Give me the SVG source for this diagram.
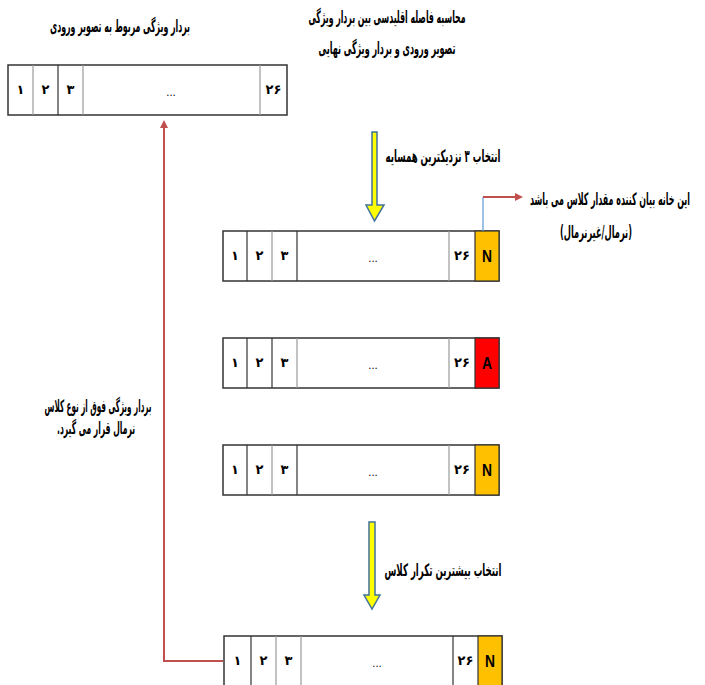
<svg xmlns="http://www.w3.org/2000/svg" width="705" height="685" viewBox="0 0 705 685">
<style>
.t{font-family:"DejaVu Sans","Noto Sans",sans-serif;font-weight:bold;fill:#000;text-anchor:middle;font-size:17px;direction:rtl;unicode-bidi:embed}
.num{font-family:"DejaVu Sans",sans-serif;font-size:13px;font-weight:bold;fill:#000;text-anchor:middle}
.dots{font-family:"DejaVu Sans",sans-serif;font-size:10px;fill:#000;text-anchor:middle}
.cls{font-family:"Liberation Sans",sans-serif;font-size:17px;font-weight:bold;fill:#000;text-anchor:middle}
.box{fill:#fff;stroke:#333;stroke-width:1.5}
.dk{stroke:#333;stroke-width:1.2}
.lt{stroke:#999;stroke-width:1.2}
.red{stroke:#c0504d;stroke-width:2;fill:none}
.yarrow{fill:#ffff00;stroke:#41719c;stroke-width:1.5}
</style>
<defs>
<marker id="ah" markerWidth="8" markerHeight="8" refX="6" refY="4" orient="auto" markerUnits="userSpaceOnUse">
<path d="M0,0 L8,4 L0,8 Z" fill="#c0504d"/>
</marker>
</defs>

<g id="title-input">
<text class="t" x="120" y="32" textLength="140" lengthAdjust="spacingAndGlyphs">بردار ویژگی مربوط به تصویر ورودی</text>
</g>
<g id="title-distance">
<text class="t" x="387" y="23" textLength="157" lengthAdjust="spacingAndGlyphs">محاسبه فاصله اقلیدسی بین بردار ویژگی</text>
<text class="t" x="387" y="54" textLength="137" lengthAdjust="spacingAndGlyphs">تصویر ورودی و بردار ویژگی نهایی</text>
</g>

<g id="vector-input">
<rect class="box" x="8" y="65" width="279" height="50"/>
<line class="lt" x1="33" y1="65" x2="33" y2="115"/>
<line class="dk" x1="58" y1="65" x2="58" y2="115"/>
<line class="lt" x1="83" y1="65" x2="83" y2="115"/>
<line class="lt" x1="260" y1="65" x2="260" y2="115"/>
<text class="num" x="20.5" y="94">۱</text>
<text class="num" x="45.5" y="94">۲</text>
<text class="num" x="70.5" y="94">۳</text>
<text class="dots" x="171" y="96">...</text>
<text class="num" x="273.5" y="94">۲۶</text>
</g>

<g id="step-knn">
<path class="yarrow" d="M372,132 L377,132 L377,205 L384,205 L374.5,221 L366,205 L372,205 Z"/>
<text class="t" x="443" y="162" textLength="115" lengthAdjust="spacingAndGlyphs">انتخاب ۳ نزدیکترین همسایه</text>
</g>

<g id="note-class">
<text class="t" x="610" y="205" textLength="160" lengthAdjust="spacingAndGlyphs">این خانه بیان کننده مقدار کلاس می باشد</text>
<text class="t" x="596" y="238" textLength="72" lengthAdjust="spacingAndGlyphs">(نرمال/غیرنرمال)</text>
</g>

<g id="neighbor-1">
<rect class="box" x="223" y="231" width="276" height="50"/>
<rect x="475" y="231" width="24" height="50" fill="#ffc000" stroke="#333" stroke-width="1.2"/>
<line class="dk" x1="247" y1="231" x2="247" y2="281"/>
<line class="lt" x1="272" y1="231" x2="272" y2="281"/>
<line class="dk" x1="297" y1="231" x2="297" y2="281"/>
<line class="lt" x1="449" y1="231" x2="449" y2="281"/>
<text class="num" x="235" y="260">۱</text>
<text class="num" x="259.5" y="260">۲</text>
<text class="num" x="284.5" y="260">۳</text>
<text class="dots" x="373" y="262">...</text>
<text class="num" x="462" y="260">۲۶</text>
<text class="cls" x="487" y="262" textLength="10" lengthAdjust="spacingAndGlyphs">N</text>
</g>

<g id="neighbor-2">
<rect class="box" x="223" y="338" width="276" height="50"/>
<rect x="475" y="338" width="24" height="50" fill="#ff0000" stroke="#333" stroke-width="1.2"/>
<line class="dk" x1="247" y1="338" x2="247" y2="388"/>
<line class="dk" x1="272" y1="338" x2="272" y2="388"/>
<line class="lt" x1="297" y1="338" x2="297" y2="388"/>
<line class="lt" x1="449" y1="338" x2="449" y2="388"/>
<text class="num" x="235" y="367">۱</text>
<text class="num" x="259.5" y="367">۲</text>
<text class="num" x="284.5" y="367">۳</text>
<text class="dots" x="373" y="369">...</text>
<text class="num" x="462" y="367">۲۶</text>
<text class="cls" x="487" y="369" textLength="10" lengthAdjust="spacingAndGlyphs">A</text>
</g>

<g id="neighbor-3">
<rect class="box" x="223" y="445" width="276" height="50"/>
<rect x="475" y="445" width="24" height="50" fill="#ffc000" stroke="#333" stroke-width="1.2"/>
<line class="dk" x1="247" y1="445" x2="247" y2="495"/>
<line class="lt" x1="272" y1="445" x2="272" y2="495"/>
<line class="dk" x1="297" y1="445" x2="297" y2="495"/>
<line class="lt" x1="449" y1="445" x2="449" y2="495"/>
<text class="num" x="235" y="474">۱</text>
<text class="num" x="259.5" y="474">۲</text>
<text class="num" x="284.5" y="474">۳</text>
<text class="dots" x="373" y="476">...</text>
<text class="num" x="462" y="474">۲۶</text>
<text class="cls" x="487" y="476" textLength="10" lengthAdjust="spacingAndGlyphs">N</text>
</g>

<g id="step-vote">
<path class="yarrow" d="M369,522 L375,522 L375,595 L380,595 L372,609 L364,595 L369,595 Z"/>
<text class="t" x="443" y="576" textLength="117" lengthAdjust="spacingAndGlyphs">انتخاب بیشترین تکرار کلاس</text>
</g>

<g id="note-result">
<text class="t" x="98" y="412" textLength="107" lengthAdjust="spacingAndGlyphs">بردار ویژگی فوق از نوع کلاس</text>
<text class="t" x="96" y="434" textLength="78" lengthAdjust="spacingAndGlyphs">نرمال قرار می گیرد.</text>
</g>

<g id="result-vector">
<rect class="box" x="224" y="636" width="278" height="52"/>
<rect x="478" y="636" width="24" height="52" fill="#ffc000" stroke="#333" stroke-width="1.2"/>
<line class="dk" x1="251" y1="636" x2="251" y2="688"/>
<line class="lt" x1="276" y1="636" x2="276" y2="688"/>
<line class="lt" x1="301" y1="636" x2="301" y2="688"/>
<line class="dk" x1="453" y1="636" x2="453" y2="688"/>
<text class="num" x="237.5" y="665">۱</text>
<text class="num" x="263.5" y="665">۲</text>
<text class="num" x="288.5" y="665">۳</text>
<text class="dots" x="377" y="667">...</text>
<text class="num" x="465.5" y="665">۲۶</text>
<text class="cls" x="490" y="667" textLength="10" lengthAdjust="spacingAndGlyphs">N</text>
</g>

<g id="connectors">
<polyline class="red" points="223,661 164,661 164,122" marker-end="url(#ah)"/>
<line x1="483" y1="231" x2="483" y2="197" stroke="#5b9bd5" stroke-width="1.2"/>
<line class="red" x1="483" y1="197" x2="521" y2="197" marker-end="url(#ah)"/>
</g>
</svg>
